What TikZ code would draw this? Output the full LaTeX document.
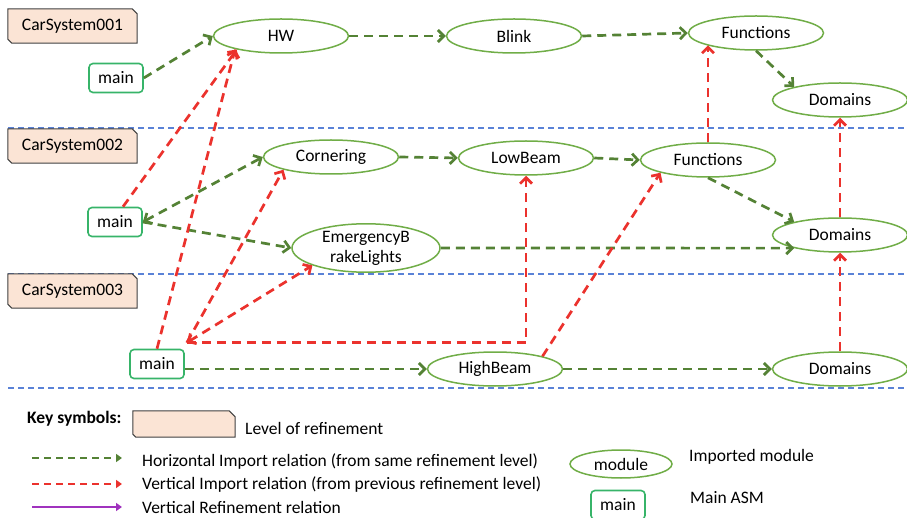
\documentclass[tikz,border=0pt]{standalone}
\usepackage{fontspec}
\setmainfont{Carlito}
\usetikzlibrary{arrows.meta,shapes.geometric,shapes.misc,backgrounds}
\definecolor{modgreen}{RGB}{112,173,71}
\definecolor{maingreen}{RGB}{55,180,105}
\definecolor{hgreen}{RGB}{84,130,53}
\definecolor{vred}{RGB}{235,50,45}
\definecolor{lblue}{RGB}{90,130,215}
\definecolor{peach}{RGB}{251,228,213}
\definecolor{purp}{RGB}{160,50,190}
\begin{document}
\begin{tikzpicture}[x=1pt,y=-1pt,
 every node/.style={font=\fontsize{17.5}{20}\selectfont, inner sep=0pt},
 module/.style={ellipse, draw=modgreen, line width=1.5pt, fill=white, minimum width=135pt, minimum height=34pt},
 mainasm/.style={rectangle, rounded corners=4pt, draw=maingreen, line width=1.6pt, fill=white, minimum width=54pt, minimum height=29pt},
 level/.style={rectangle, minimum width=129pt, minimum height=34pt},
 levelshape/.style={draw=black!75, line width=1pt, fill=peach},
 himp/.style={draw=hgreen, line width=2.7pt, dash pattern=on 9pt off 6pt},
 vimp/.style={draw=vred, line width=2.7pt, dash pattern=on 9pt off 6pt},
 hend/.style={-{Straight Barb[length=6pt,width=12pt]}},
 hboth/.style={{Straight Barb[length=6pt,width=12pt]}-{Straight Barb[length=6pt,width=12pt]}},
 sep/.style={draw=lblue, line width=1.3pt, dash pattern=on 6pt off 4pt},
 lbl/.style={anchor=west}
]
\useasboundingbox (0,0) rectangle (907,518);
% level boxes (text)
\node[level] (l1) at (72.5,26) {CarSystem001};
\node[level] (l2) at (72.5,146) {CarSystem002};
\node[level] (l3) at (72.5,291) {CarSystem003};
\node[level, minimum width=102pt, minimum height=26pt] (lglev) at (184,424) {};
\begin{scope}[on background layer]
% separators
\coordinate (s1a) at (8,128); \coordinate (s1b) at (907,128);
\coordinate (s2a) at (8,274); \coordinate (s2b) at (907,274);
\coordinate (s3a) at (8,388); \coordinate (s3b) at (907,388);
\draw[sep] (s1a) -- (s1b);
\draw[sep] (s2a) -- (s2b);
\draw[sep] (s3a) -- (s3b);
\foreach \n in {l1,l2,l3}{
  \draw[levelshape] (\n.north west) -- ([xshift=-5pt]\n.north east) -- ([yshift=-5pt]\n.north east)
    -- (\n.south east) -- ([xshift=4pt]\n.south west) -- ([yshift=4pt]\n.south west) -- cycle;
}
\draw[levelshape] (lglev.north west) -- ([xshift=-6pt]lglev.north east) -- ([yshift=-6pt]lglev.north east)
    -- (lglev.south east) -- ([xshift=3pt]lglev.south west) -- ([yshift=3pt]lglev.south west) -- cycle;
\end{scope}
% modules
\node[module] (hw) at (281,36) {HW};
\node[module] (blink) at (514,36) {Blink};
\node[module] (ftop) at (756,33) {Functions};
\node[module] (dtop) at (840,100) {Domains};
\node[mainasm] (m1) at (116,78) {main};
\node[module] (corn) at (331,157) {Cornering};
\node[module] (lowb) at (526,158) {LowBeam};
\node[module] (fmid) at (708,160) {Functions};
\node[module, minimum width=148pt, minimum height=47pt, align=center] (ebl) at (366,248) {EmergencyB\\rakeLights};
\node[module] (dmid) at (840,235) {Domains};
\node[mainasm] (m2) at (115,222) {main};
\node[mainasm] (m3) at (157,364) {main};
\node[module] (hb) at (495,369) {HighBeam};
\node[module] (dbot) at (840,369) {Domains};
% horizontal imports
\draw[himp, hend] (m1.east) -- (hw.west);
\draw[himp, hend] (hw.east) -- (blink.west);
\draw[himp, hend] (blink.east) -- (ftop.west);
\draw[himp, hend] (ftop.south) -- (dtop.164);
\draw[himp, hboth] (m2.east) -- (corn.west);
\draw[himp, hend] (m2.east) -- (ebl.west);
\draw[himp, hend] (corn.east) -- (lowb.west);
\draw[himp, hend] (lowb.east) -- (fmid.west);
\draw[himp, hend] (fmid.south) -- (dmid.164);
\draw[himp, hend] (ebl.east) -- (dmid.196);
\draw[himp, hend] (m3.east |- hb.west) -- (hb.west);
\draw[himp, hend] (hb.east) -- (dbot.west);
% vertical imports
\coordinate (j3) at ([shift={(2pt,6pt)}]m3.north east);
\draw[vimp, hend] ([xshift=8pt]m2.north) -- (hw.197);
\draw[vimp, hend] (m3.north) -- (hw.196);
\draw[vimp, hend] (j3) -- (corn.195);
\draw[vimp, hboth] (j3) -- (ebl.198);
\draw[vimp, hend] (j3) -| (lowb.south);
\draw[vimp, hend] (hb.15) -- (fmid.195);
\draw[vimp, hend] (fmid.north) -- (fmid.north |- ftop.194);
\draw[vimp, hend] (dmid.north) -- (dtop.south);
\draw[vimp, hend] (dbot.north) -- (dmid.south);
% legend
\node[lbl, font=\bfseries\fontsize{17.5}{20}\selectfont] (key) at (27,419) {Key symbols:};
\node[lbl] (lgt1) at (245,428) {Level of refinement};
\coordinate (ga) at (32,458); \coordinate (gb) at (122,458);
\coordinate (ra) at (32,484); \coordinate (rb) at (122,484);
\coordinate (pa) at (32,507); \coordinate (pb) at (122,507);
\draw[draw=hgreen, line width=2pt, dash pattern=on 7pt off 5pt, -{Triangle[length=6pt,width=8pt]}] (ga) -- (gb);
\draw[draw=vred, line width=2pt, dash pattern=on 7pt off 5pt, -{Triangle[length=6pt,width=8pt]}] (ra) -- (rb);
\draw[draw=purp, line width=2pt, -{Triangle[length=6pt,width=8pt]}] (pa) -- (pb);
\node[lbl] (lgt2) at (142,462) {Horizontal Import relation (from same refinement level)};
\node[lbl] (lgt3) at (142,485) {Vertical Import relation (from previous refinement level)};
\node[lbl] (lgt4) at (142,507.5) {Vertical Refinement relation};
\node[module, minimum width=102pt, minimum height=28pt] (lgmod) at (621,464) {module};
\node[lbl] (lgt5) at (689,457) {Imported module};
\node[mainasm] (lgmain) at (618,505) {main};
\node[lbl] (lgt6) at (690,498) {Main ASM};
\end{tikzpicture}
\end{document}
